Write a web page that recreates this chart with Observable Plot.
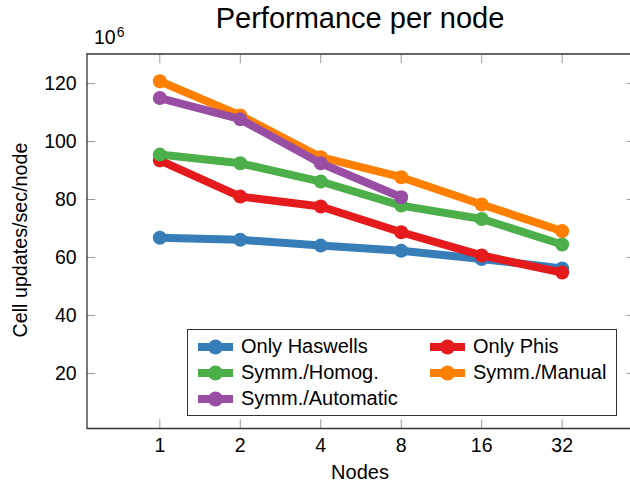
<!DOCTYPE html>
<html>
<head>
<meta charset="utf-8">
<script src="https://cdn.jsdelivr.net/npm/d3@7"></script>
<script src="https://cdn.jsdelivr.net/npm/@observablehq/plot@0.6"></script>
<style>
  html, body { margin: 0; padding: 0; background: #fff; }
  #wrap { position: relative; width: 630px; height: 482px; font-family: "Liberation Sans", Arial, Helvetica, sans-serif; color: #000; overflow: hidden; }
  #wrap svg { position: absolute; left: 0; top: 0; }
  .abs { position: absolute; white-space: nowrap; line-height: 1; }
  #legend { position: absolute; left: 186.5px; top: 329px; width: 430px; height: 87px; border: 1px solid #333; background: #fff; box-sizing: border-box; }
  .item { position: absolute; font-size: 20px; line-height: 1; white-space: nowrap; }
</style>
</head>
<body>
<div id="wrap"></div>
<script>
// ---- data ----
const nodes = [1, 2, 4, 8, 16, 32];
const onlyHaswells = [66.8, 66.1, 64.1, 62.3, 59.5, 56.2];
const onlyPhis = [93.5, 81.0, 77.6, 68.7, 60.7, 54.8];
const symmHomog = [95.5, 92.5, 86.2, 77.9, 73.3, 64.5];
const symmManual = [120.8, 109.0, 94.6, 87.7, 78.3, 69.1];
const symmAutomatic = [115.0, 107.7, 92.5, 80.8];
const yTicks = [20, 40, 60, 80, 100, 120];

const seriesNames = ["Only Haswells", "Only Phis", "Symm./Homog.", "Symm./Manual", "Symm./Automatic"];
const seriesValues = [onlyHaswells, onlyPhis, symmHomog, symmManual, symmAutomatic];
const seriesColors = ["#377eb8", "#e41a1c", "#4daf4a", "#ff7f00", "#984ea3"];

const titleText = "Performance per node";
const xLabel = "Nodes";
const yLabel = "Cell updates/sec/node";

// ---- build table ----
const series = seriesNames.map((name, i) => ({
  name, color: seriesColors[i],
  rows: seriesValues[i].map((v, j) => ({nodes: nodes[j], value: v, series: name}))
}));

const xDomain = [Math.pow(2, -0.905), Math.pow(2, 5.908)];
const yDomain = [1, 130.2];
const axisColor = "#333";
const tickColor = "#9a9a9a";
const fs = "19.5px";

const marks = [];
marks.push(Plot.axisX({anchor: "bottom", ticks: nodes, tickFormat: d => String(d), tickSize: -8.7, tickPadding: 18, stroke: tickColor, fill: "#000", label: null, fontSize: fs}));
marks.push(Plot.axisX({anchor: "top", ticks: nodes, tickFormat: () => "", tickSize: -8.7, stroke: tickColor, label: null}));
marks.push(Plot.axisY({anchor: "left", ticks: yTicks, tickFormat: d => String(d), tickSize: -8.7, tickPadding: 19, stroke: tickColor, fill: "#000", label: null, fontSize: fs}));
marks.push(Plot.axisY({anchor: "right", ticks: yTicks, tickFormat: () => "", tickSize: -4.5, stroke: tickColor, label: null}));
marks.push(Plot.ruleX([xDomain[0]], {stroke: axisColor, strokeWidth: 1.3}));
marks.push(Plot.ruleY([yDomain[0], yDomain[1]], {stroke: axisColor, strokeWidth: 1.3}));
for (const s of series) {
  marks.push(Plot.line(s.rows, {x: "nodes", y: "value", stroke: s.color, strokeWidth: 8, strokeLinejoin: "round"}));
  marks.push(Plot.dot(s.rows, {x: "nodes", y: "value", fill: s.color, r: 7, stroke: "none"}));
}

const chart = Plot.plot({
  width: 630,
  height: 482,
  marginLeft: 86.5,
  marginRight: 0,
  marginTop: 53.5,
  marginBottom: 54,
  style: {fontFamily: "'Liberation Sans', Arial, Helvetica, sans-serif", fontSize: fs, background: "transparent", overflow: "visible"},
  x: {type: "log", base: 2, domain: xDomain, range: [86.5, 634.7]},
  y: {type: "linear", domain: yDomain},
  marks
});

const wrap = document.getElementById("wrap");
wrap.appendChild(chart);

function addText(text, css) {
  const d = document.createElement("div");
  d.className = "abs";
  d.textContent = text;
  Object.assign(d.style, css);
  wrap.appendChild(d);
  return d;
}

// title
addText(titleText, {left: "0px", width: "720px", textAlign: "center", top: "3.5px", fontSize: "29px"});
// 10^6
const mult = addText("10", {left: "94px", top: "28px", fontSize: "19.5px"});
const sup = document.createElement("span");
sup.textContent = "6";
Object.assign(sup.style, {fontSize: "14px", position: "relative", top: "-7px", marginLeft: "1px"});
mult.appendChild(sup);
// x label
addText(xLabel, {left: "0px", width: "720px", textAlign: "center", top: "462px", fontSize: "20px"});
// y label (rotated)
const yl = addText(yLabel, {left: "0px", top: "0px", fontSize: "19.7px", width: "260px", textAlign: "center", transformOrigin: "0 0"});
yl.style.transform = "translate(10.5px, 370px) rotate(-90deg)";

// legend
const legend = document.createElement("div");
legend.id = "legend";
wrap.appendChild(legend);
const legendOrder = [0, 1, 2, 3, 4];
legendOrder.forEach((k, idx) => {
  const col = idx % 2, row = Math.floor(idx / 2);
  const s = series[k];
  const baseTop = 329;
  const sampleLeft = (col === 0 ? 197 : 428.5) - 186.5;
  const textLeft = (col === 0 ? 240 : 472) - 186.5;
  const rowBaseline = 353.3 + row * 26 - baseTop;
  const svgNS = "http://www.w3.org/2000/svg";
  const svg = document.createElementNS(svgNS, "svg");
  svg.setAttribute("width", "36");
  svg.setAttribute("height", "18");
  svg.style.position = "absolute";
  svg.style.left = sampleLeft + "px";
  svg.style.top = (rowBaseline - 6.5 - 9 - 1) + "px";
  const ln = document.createElementNS(svgNS, "line");
  ln.setAttribute("x1", "0"); ln.setAttribute("x2", "35");
  ln.setAttribute("y1", "9"); ln.setAttribute("y2", "9");
  ln.setAttribute("stroke", s.color); ln.setAttribute("stroke-width", "8");
  svg.appendChild(ln);
  const c = document.createElementNS(svgNS, "circle");
  c.setAttribute("cx", "17.5"); c.setAttribute("cy", "9"); c.setAttribute("r", "7.5");
  c.setAttribute("fill", s.color);
  svg.appendChild(c);
  legend.appendChild(svg);
  const t = document.createElement("div");
  t.className = "item";
  t.textContent = s.name;
  t.style.left = textLeft + "px";
  t.style.top = (rowBaseline - 17 - 1) + "px";
  legend.appendChild(t);
});
</script>
</body>
</html>
